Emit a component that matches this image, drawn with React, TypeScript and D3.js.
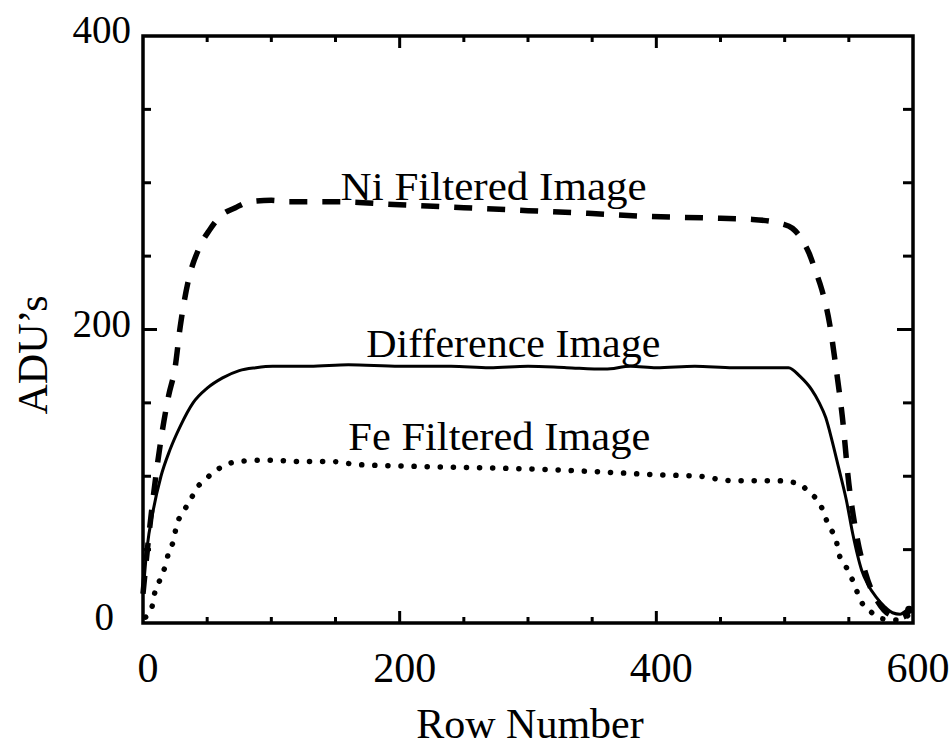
import React from "react";
import * as d3 from "d3";

const niRows = [0, 4, 8, 14, 20, 25, 29, 35, 44, 52, 60, 72, 83, 100, 114, 150, 200, 250, 300, 350, 395, 440, 475, 498, 506, 513, 519, 524, 529, 535, 540, 545, 550, 555, 563, 573, 584, 592, 597];
const niValues = [20, 55, 86, 125, 155, 174, 202, 232, 256, 268, 277, 283, 287, 288, 287, 287, 285, 283, 281, 279, 277, 276, 275, 272, 269, 262, 252, 240, 227, 204, 174, 140, 95, 65, 34, 14, 5, 4, 9];

const diffRows = [0, 3, 8, 14, 21, 29, 39, 50, 62, 75, 88, 101, 130, 160, 200, 240, 270, 300, 330, 360, 380, 400, 430, 460, 480, 503, 512, 521, 527, 532, 537, 542, 548, 553, 560, 565, 571, 578, 584, 590, 594, 597];
const diffValues = [20, 50, 77, 100, 118, 134, 150, 160, 167, 172, 174, 175, 175, 176, 175, 175, 174, 175, 174, 173, 175, 174, 175, 174, 174, 174, 168, 159, 150, 140, 124, 106, 84, 61, 36, 26, 18, 11, 7, 6, 8, 10];

const feRows = [2, 7, 9, 13, 17, 20, 24, 26, 31, 37, 42, 50, 57, 65, 74, 96, 125, 148, 166, 200, 250, 300, 356, 400, 433, 459, 493, 511, 519, 527, 535, 540, 542, 548, 553, 560, 568, 575, 590, 597];
const feValues = [4, 11, 20, 29, 38, 48, 57, 66, 75, 84, 92, 99, 104, 108, 110, 111, 110, 110, 108, 107, 106, 105, 103, 101, 100, 97, 97, 95, 89, 82, 65, 57, 48, 38, 29, 14, 7, 3, 2, 6];

const xTickLabels = [0, 200, 400, 600];
const yTickLabels = [0, 200, 400];
const xMinorTicks = [50, 100, 150, 250, 300, 350, 450, 500, 550];
const yMinorTicks = [50, 100, 150, 250, 300, 350];

const annotations = [
  { text: "Ni Filtered Image", row: 154, adu: 288, len: 306 },
  { text: "Difference Image", row: 174, adu: 181, len: 294 },
  { text: "Fe Filtered Image", row: 160, adu: 118, len: 302 },
];

const W = 952;
const H = 749;
const margin = { left: 143, top: 36, right: 39, bottom: 126 };

export default function App() {
  const x = d3.scaleLinear().domain([0, 600]).range([margin.left, W - margin.right]);
  const y = d3.scaleLinear().domain([0, 400]).range([H - margin.bottom, margin.top]);
  const line = d3
    .line<[number, number]>()
    .x((d) => x(d[0]))
    .y((d) => y(d[1]))
    .curve(d3.curveMonotoneX);

  const ni = niRows.map((r, i) => [r, niValues[i]] as [number, number]);
  const diff = diffRows.map((r, i) => [r, diffValues[i]] as [number, number]);
  const fe = feRows.map((r, i) => [r, feValues[i]] as [number, number]);

  const x0 = x(0), x1 = x(600), y0 = y(0), y1 = y(400);
  const font = "'Liberation Serif', 'Times New Roman', serif";

  return (
    <svg
      width={W}
      height={H}
      style={{ position: "absolute", left: 0, top: 0, background: "#fff" }}
    >
      <rect x={0} y={0} width={W} height={H} fill="#fff" />
      {/* curves */}
      <path d={line(fe) || ""} fill="none" stroke="#000" strokeWidth={5.5} strokeLinecap="round" strokeDasharray="0.1,13" />
      <path d={line(diff) || ""} fill="none" stroke="#000" strokeWidth={3} strokeLinejoin="round" />
      <path d={line(ni) || ""} fill="none" stroke="#000" strokeWidth={5.5} strokeDasharray="18,15" />
      <circle cx={x(niRows[niRows.length - 1])} cy={y(niValues[niValues.length - 1])} r={4} fill="#000" />

      {/* frame */}
      <rect x={x0} y={y1} width={x1 - x0} height={y0 - y1} fill="none" stroke="#000" strokeWidth={3.5} />

      {/* x ticks */}
      {xTickLabels.filter((v) => v > 0 && v < 600).map((v) => (
        <g key={"xM" + v}>
          <line x1={x(v)} x2={x(v)} y1={y0} y2={y0 - 12} stroke="#000" strokeWidth={3} />
          <line x1={x(v)} x2={x(v)} y1={y1} y2={y1 + 12} stroke="#000" strokeWidth={3} />
        </g>
      ))}
      {xMinorTicks.map((v) => (
        <g key={"xm" + v}>
          <line x1={x(v)} x2={x(v)} y1={y0} y2={y0 - 6} stroke="#000" strokeWidth={3} />
          <line x1={x(v)} x2={x(v)} y1={y1} y2={y1 + 6} stroke="#000" strokeWidth={3} />
        </g>
      ))}
      {/* y ticks */}
      {yTickLabels.filter((v) => v > 0 && v < 400).map((v) => (
        <g key={"yM" + v}>
          <line x1={x0} x2={x0 + 14} y1={y(v)} y2={y(v)} stroke="#000" strokeWidth={3} />
          <line x1={x1} x2={x1 - 16} y1={y(v)} y2={y(v)} stroke="#000" strokeWidth={3} />
        </g>
      ))}
      {yMinorTicks.map((v) => (
        <g key={"ym" + v}>
          <line x1={x0} x2={x0 + 8} y1={y(v)} y2={y(v)} stroke="#000" strokeWidth={3} />
          <line x1={x1} x2={x1 - 10} y1={y(v)} y2={y(v)} stroke="#000" strokeWidth={3} />
        </g>
      ))}

      {/* tick labels */}
      {xTickLabels.map((v) => (
        <text key={"xl" + v} x={x(v) + 5} y={682} textAnchor="middle" fontFamily={font} fontSize={42} fill="#000">
          {v}
        </text>
      ))}
      {yTickLabels.map((v) => (
        <text
          key={"yl" + v}
          x={v === 0 ? 114 : 131}
          y={y(v) + 7}
          textAnchor="end"
          fontFamily={font}
          fontSize={39}
          fill="#000"
        >
          {v}
        </text>
      ))}

      {/* axis titles */}
      <text x={530} y={738} textAnchor="middle" fontFamily={font} fontSize={42} fill="#000">
        Row Number
      </text>
      <text
        transform={`translate(47, 355) rotate(-90)`}
        textAnchor="middle"
        fontFamily={font}
        fontSize={42}
        fill="#000"
      >
        ADU’s
      </text>

      {/* annotations */}
      {annotations.map((a) => (
        <text
          key={a.text}
          x={x(a.row)}
          y={y(a.adu)}
          fontFamily={font}
          fontSize={41}
          textLength={a.len}
          lengthAdjust="spacingAndGlyphs"
          fill="#000"
        >
          {a.text}
        </text>
      ))}
    </svg>
  );
}
